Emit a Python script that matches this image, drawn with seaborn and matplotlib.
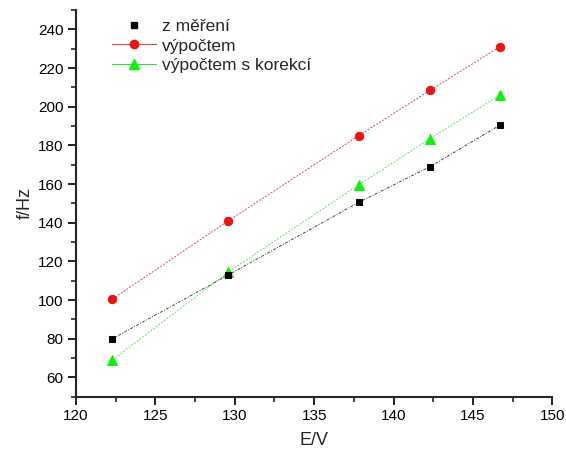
import numpy as np
import pandas as pd
import matplotlib
matplotlib.use("Agg")
import matplotlib.pyplot as plt
from matplotlib.lines import Line2D
from matplotlib.ticker import MultipleLocator
import seaborn as sns

# values
E = [122.3, 129.6, 137.8, 142.3, 146.7]
f_mereni = [80.0, 113.0, 150.5, 169.0, 190.5]
f_vypocet = [100.5, 141.0, 185.0, 208.5, 231.0]
f_korekce = [69.0, 114.5, 159.5, 183.5, 206.0]
labels = ["z měření", "výpočtem", "výpočtem s korekcí"]

df = pd.DataFrame({"E": E, "mereni": f_mereni, "vypocet": f_vypocet, "korekce": f_korekce})

sns.set_style("ticks")
plt.rcParams["font.family"] = ["Liberation Sans", "DejaVu Sans"]

fig = plt.figure(figsize=(5.66, 4.55), dpi=100)
ax = fig.add_axes([0.134, 0.128, 0.842, 0.85])

sns.lineplot(data=df, x="E", y="vypocet", ax=ax, color="#c85050", lw=0.7,
             linestyle=(0, (2, 1.5)), marker="o", markersize=6,
             markerfacecolor="#ee1111", markeredgecolor="#ee1111")
sns.lineplot(data=df, x="E", y="korekce", ax=ax, color="#66dd66", lw=0.7,
             linestyle=(0, (2, 1.5)), marker="^", markersize=7,
             markerfacecolor="#11ee11", markeredgecolor="#11ee11")
sns.lineplot(data=df, x="E", y="mereni", ax=ax, color="#444444", lw=0.7,
             linestyle=(0, (3, 1.5, 1, 1.5)), marker="s", markersize=5,
             markerfacecolor="black", markeredgecolor="black")

ax.set_xlim(120, 150)
ax.set_ylim(50, 250)
ax.xaxis.set_major_locator(MultipleLocator(5))
ax.xaxis.set_minor_locator(MultipleLocator(2.5))
ax.yaxis.set_major_locator(MultipleLocator(20))
ax.yaxis.set_minor_locator(MultipleLocator(10))
ax.set_yticks(np.arange(60, 250, 20))
ax.tick_params(which="major", length=6, width=1.2, labelsize=11, colors="black", pad=3)
ax.tick_params(which="minor", length=3.5, width=1.2)
for s in ["top", "right"]:
    ax.spines[s].set_visible(False)
for s in ["left", "bottom"]:
    ax.spines[s].set_linewidth(1.5)
ax.set_xlabel("E/V", fontsize=13, labelpad=6)
ax.set_ylabel("f/Hz", fontsize=13, labelpad=3)

handles = [
    Line2D([], [], linestyle="none", marker="s", markersize=5, color="black"),
    Line2D([], [], color="#e04040", lw=0.8, marker="o", markersize=6, markerfacecolor="#ee1111", markeredgecolor="#ee1111"),
    Line2D([], [], color="#33dd33", lw=0.8, marker="^", markersize=7, markerfacecolor="#11ee11", markeredgecolor="#11ee11"),
]
ax.legend(handles, labels, loc="upper left", bbox_to_anchor=(0.062, 0.995), frameon=False,
          fontsize=12.5, handlelength=2.5, handletextpad=0.35, labelspacing=0.25, borderaxespad=0)

fig.savefig("out.png", dpi=100)
